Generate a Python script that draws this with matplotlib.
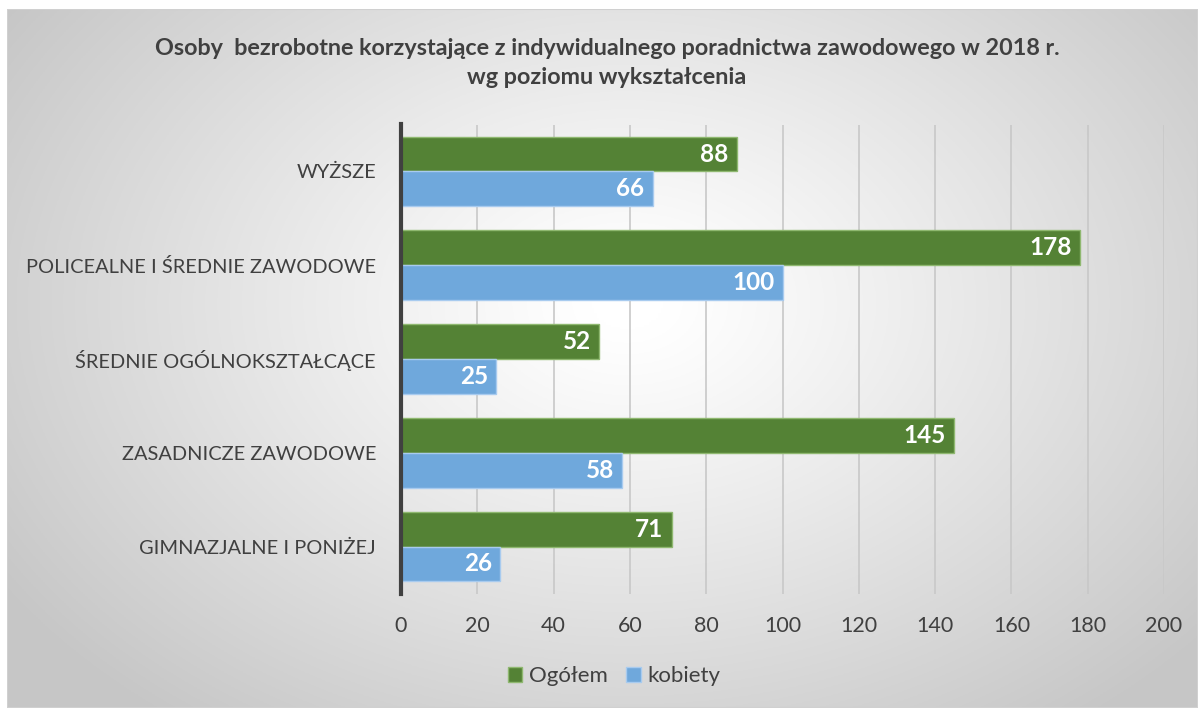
import numpy as np
import matplotlib
matplotlib.use("Agg")
import matplotlib.pyplot as plt
from matplotlib.patches import Rectangle

plt.rcParams['font.family'] = ['Lato', 'DejaVu Sans']

categories = ["WYŻSZE", "POLICEALNE I ŚREDNIE ZAWODOWE", "ŚREDNIE OGÓLNOKSZTAŁCĄCE",
              "ZASADNICZE ZAWODOWE", "GIMNAZJALNE I PONIŻEJ"]
ogolem = [88, 178, 52, 145, 71]
kobiety = [66, 100, 25, 58, 26]
series_names = ["Ogółem", "kobiety"]
title = "Osoby  bezrobotne korzystające z indywidualnego poradnictwa zawodowego w 2018 r.\nwg poziomu wykształcenia"
xticks = list(range(0, 201, 20))

W, H = 1198, 708
fig = plt.figure(figsize=(W / 100, H / 100), dpi=100)
fig.patch.set_facecolor("white")

# background gradient panel
bx0, by0 = 7 / W, 0
bg = fig.add_axes([bx0, by0, 1 - bx0, 1 - 9 / H], zorder=0)
ny, nx = 300, 500
yy, xx = np.mgrid[0:ny, 0:nx]
cx, cy = nx * 0.52, ny * 0.42
r = np.sqrt(((xx - cx) / (nx * 0.62)) ** 2 + ((yy - cy) / (ny * 0.75)) ** 2)
r = np.clip(r, 0, 1)
val = 1.0 - (1.0 - 0.78) * np.clip((r - 0.05) / 0.95, 0, 1) ** 1.1
bg.imshow(np.dstack([val, val, val]), aspect="auto", extent=[0, 1, 0, 1], origin="upper")
bg.add_patch(Rectangle((0, 0), 1, 1, transform=bg.transAxes, fill=False,
                       edgecolor="#d0d0d0", linewidth=1.5))
bg.set_axis_off()

ax = fig.add_axes([401 / W, 1 - 593.5 / H, (1164 - 401) / W, (593.5 - 124.5) / H], zorder=1)
ax.patch.set_alpha(0)

n = len(categories)
y = np.arange(n)
h = 0.37
green = "#548235"
blue = "#6fa8dc"
b1 = ax.barh(y - h / 2, ogolem, height=h, color=green, edgecolor="#8fb870", linewidth=1, zorder=3, label=series_names[0])
b2 = ax.barh(y + h / 2, kobiety, height=h, color=blue, edgecolor="#a8cbef", linewidth=1, zorder=3, label=series_names[1])

for bars, vals in ((b1, ogolem), (b2, kobiety)):
    for rect, v in zip(bars, vals):
        ax.text(v - 2.2, rect.get_y() + rect.get_height() / 2, str(v), ha="right", va="center",
                color="white", fontsize=17.5, fontweight="bold", zorder=4)

ax.set_ylim(n - 0.5, -0.5)
ax.set_xlim(0, 200)
ax.set_xticks(xticks)
ax.set_yticks(y)
ax.set_yticklabels(categories, fontsize=14.4, color="#404040")
ax.tick_params(axis="x", labelsize=15.5, labelcolor="#404040", length=0, pad=16)
ax.tick_params(axis="y", length=0, pad=18)
ax.grid(axis="x", color="#c8c8c8", linewidth=1.2, zorder=0)
ax.set_axisbelow(True)
for s in ("top", "right", "bottom"):
    ax.spines[s].set_visible(False)
ax.spines["left"].set_color("#404040")
ax.spines["left"].set_linewidth(3)
ax.spines["left"].set_zorder(5)

fig.text(607 / W, 1 - 63 / H, title, ha="center", va="center", fontsize=16.8, fontweight="bold",
         color="#404040", linespacing=1.45)

leg = fig.legend(handles=[b1, b2], labels=series_names, loc="center", bbox_to_anchor=(614 / W, 1 - 676 / H),
                 ncol=2, frameon=False, fontsize=16, handlelength=0.65, handleheight=0.65,
                 handletextpad=0.3, columnspacing=0.85, labelcolor="#404040")

fig.savefig("out.png", dpi=100)
